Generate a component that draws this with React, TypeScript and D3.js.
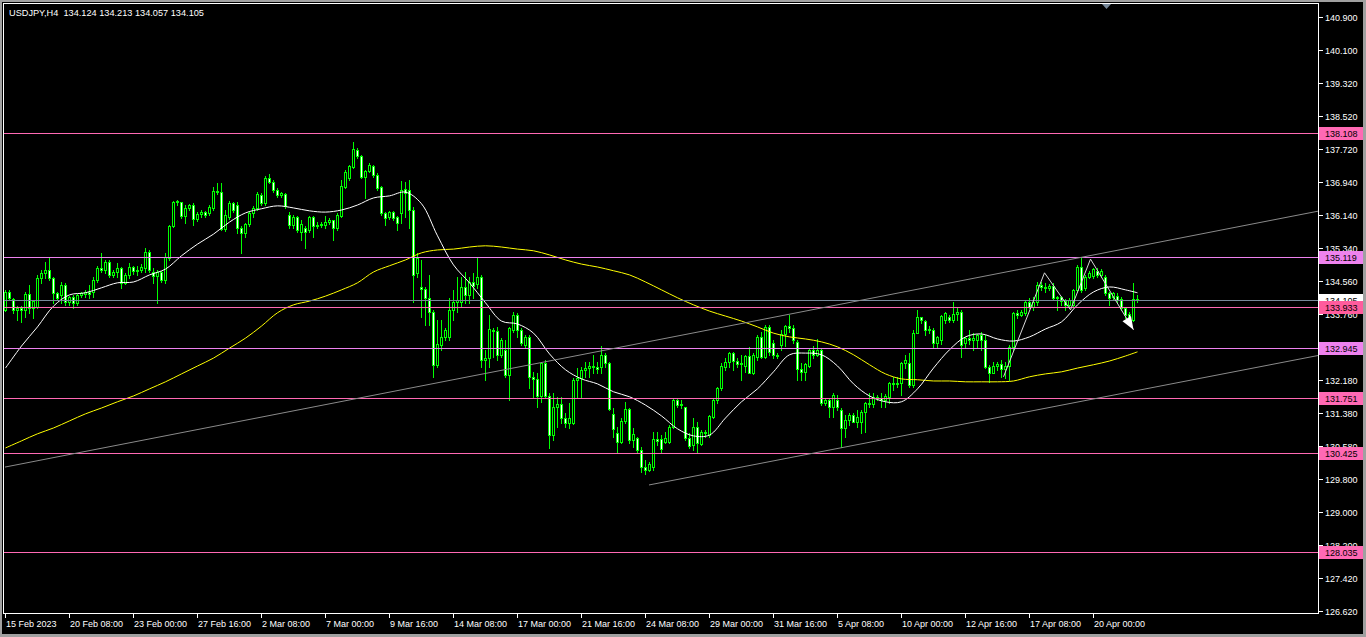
import React from "react";
import * as d3 from "d3";

const W = 1366;
const H = 637;

const symbolTitle = "USDJPY,H4";
const lastQuote = ["134.124", "134.213", "134.057", "134.105"];

// H4 bars, from 15 Feb 2023 16:00 to 21 Apr 2023 20:00
const open = [
  133.86, 134.29, 134.12, 133.86, 133.91, 133.86, 134.24, 133.91, 133.93, 134.63,
  134.75, 134.82, 134.63, 134.27, 134.22, 134.46, 134.05, 134.17, 134.03, 134.22,
  134.24, 134.29, 134.29, 134.58, 134.87, 134.82, 135.01, 134.70, 134.77, 134.87,
  134.51, 134.70, 134.89, 134.79, 134.82, 134.87, 135.25, 134.77, 134.67, 134.77,
  134.58, 135.11, 135.88, 136.45, 136.45, 136.12, 136.31, 136.38, 136.04, 136.16,
  136.21, 136.19, 136.31, 136.72, 136.69, 135.80, 136.09, 136.43, 136.38, 135.83,
  135.71, 135.92, 136.19, 136.31, 136.62, 136.43, 137.03, 136.93, 136.74, 136.62,
  136.65, 136.14, 135.90, 136.09, 135.73, 135.83, 135.78, 136.09, 135.88, 135.90,
  135.90, 135.97, 136.02, 135.83, 136.12, 136.81, 137.03, 137.29, 137.70, 137.56,
  137.05, 137.20, 137.32, 137.10, 136.81, 136.19, 136.09, 136.21, 136.09, 136.19,
  136.77, 136.74, 136.26, 134.75, 134.41, 134.36, 134.15, 133.81, 132.53, 133.02,
  133.21, 133.21, 133.86, 134.05, 134.05, 134.41, 134.22, 134.53, 134.48, 134.65,
  132.66, 132.70, 133.38, 133.35, 132.78, 132.90, 132.30, 133.38, 133.74, 133.38,
  133.02, 133.21, 132.25, 132.20, 131.79, 132.58, 131.79, 130.85, 131.52, 131.60,
  131.26, 131.14, 131.14, 132.18, 132.22, 132.42, 132.46, 132.51, 132.49, 132.49,
  132.78, 132.58, 131.36, 130.90, 130.68, 131.19, 131.48, 130.73, 130.78, 130.49,
  130.08, 130.01, 130.08, 130.76, 130.76, 130.68, 130.68, 131.04, 131.69, 131.57,
  131.52, 130.78, 130.61, 131.04, 130.64, 130.92, 130.85, 131.28, 131.69, 131.98,
  132.49, 132.61, 132.82, 132.63, 132.56, 132.51, 132.75, 132.34, 132.73, 133.21,
  132.73, 133.45, 133.06, 132.78, 133.02, 133.28, 133.47, 133.42, 133.09, 132.44,
  132.37, 132.51, 132.90, 132.78, 132.90, 131.62, 131.69, 131.52, 131.69, 131.45,
  131.02, 131.21, 131.33, 131.16, 131.16, 131.40, 131.62, 131.60, 131.77, 131.74,
  131.69, 131.77, 132.10, 132.08, 132.10, 132.58, 132.58, 132.06, 133.30, 133.69,
  133.59, 133.38, 133.38, 133.06, 133.14, 133.62, 133.69, 133.62, 133.76, 133.81,
  133.06, 133.18, 133.14, 133.14, 133.26, 133.14, 132.49, 132.34, 132.51, 132.56,
  132.44, 132.51, 132.97, 133.79, 133.74, 133.79, 134.05, 133.93, 134.05, 134.46,
  134.41, 134.39, 134.43, 134.15, 134.17, 134.07, 133.98, 133.98, 134.34, 134.89,
  134.39, 134.65, 134.68, 134.80, 134.70, 134.65, 134.27, 134.17, 134.19, 134.12,
  133.91, 133.76, 133.62, 134.124,
];

const high = [
  134.34, 134.34, 134.15, 133.95, 133.95, 134.29, 134.46, 134.10, 134.70, 134.82,
  135.01, 135.11, 134.65, 134.29, 134.53, 134.51, 134.19, 134.22, 134.24, 134.29,
  134.34, 134.46, 134.65, 134.92, 135.23, 135.06, 135.06, 134.82, 134.99, 134.89,
  134.75, 134.99, 134.92, 134.92, 134.96, 135.35, 135.30, 134.87, 134.82, 134.80,
  135.23, 135.90, 136.48, 136.50, 136.45, 136.38, 136.40, 136.43, 136.21, 136.26,
  136.24, 136.38, 136.81, 136.91, 136.91, 136.26, 136.48, 136.45, 136.45, 135.88,
  135.95, 136.24, 136.36, 136.69, 136.67, 137.08, 137.13, 136.98, 136.79, 136.69,
  136.67, 136.21, 136.14, 136.12, 136.02, 135.88, 136.12, 136.12, 135.97, 135.97,
  136.12, 136.07, 136.02, 136.19, 136.98, 137.22, 137.34, 137.90, 137.75, 137.58,
  137.22, 137.39, 137.34, 137.15, 136.84, 136.21, 136.24, 136.24, 136.12, 136.96,
  136.93, 136.98, 136.33, 135.23, 135.06, 134.41, 134.70, 133.86, 133.62, 133.62,
  133.42, 134.15, 134.34, 134.65, 134.65, 134.77, 134.65, 134.75, 135.11, 134.70,
  132.90, 133.74, 133.42, 133.45, 133.18, 133.14, 133.45, 133.81, 133.79, 133.42,
  133.26, 133.26, 132.37, 132.34, 132.61, 132.66, 131.86, 131.86, 131.77, 131.77,
  131.38, 131.62, 132.22, 132.46, 132.49, 132.61, 132.61, 132.78, 132.61, 132.99,
  132.82, 132.61, 131.50, 131.04, 131.26, 131.65, 131.50, 131.02, 130.80, 130.56,
  130.25, 130.20, 130.92, 130.92, 130.85, 130.92, 131.09, 131.74, 131.74, 131.69,
  131.52, 130.90, 131.26, 131.16, 130.97, 130.97, 131.33, 131.74, 132.01, 132.58,
  132.70, 132.85, 132.85, 132.70, 132.78, 132.78, 132.97, 132.82, 133.26, 133.33,
  133.50, 133.50, 133.14, 132.82, 133.38, 133.50, 133.74, 133.50, 133.14, 132.58,
  132.58, 132.94, 132.99, 133.16, 132.94, 131.74, 131.74, 131.86, 131.81, 131.50,
  131.33, 131.38, 131.38, 131.45, 131.45, 131.65, 131.86, 131.86, 131.81, 131.86,
  131.84, 132.13, 132.25, 132.25, 132.61, 132.78, 132.82, 133.38, 133.86, 133.69,
  133.62, 133.47, 133.42, 133.23, 133.74, 133.81, 133.74, 134.05, 133.93, 133.86,
  133.21, 133.38, 133.30, 133.28, 133.33, 133.26, 132.54, 132.61, 132.61, 132.66,
  132.61, 133.02, 133.81, 133.86, 133.86, 134.07, 134.15, 134.17, 134.53, 134.53,
  134.51, 134.48, 134.51, 134.19, 134.19, 134.12, 134.15, 134.36, 134.94, 135.11,
  134.70, 134.80, 134.87, 134.87, 134.84, 134.70, 134.29, 134.29, 134.27, 134.17,
  133.93, 133.81, 134.51, 134.213,
];

const low = [
  133.83, 134.10, 133.78, 133.62, 133.57, 133.69, 133.78, 133.67, 133.91, 134.51,
  134.63, 134.58, 134.03, 134.10, 134.03, 133.98, 133.98, 133.91, 133.98, 134.17,
  134.17, 134.15, 134.17, 134.53, 134.77, 134.75, 134.65, 134.65, 134.65, 134.39,
  134.48, 134.63, 134.72, 134.70, 134.77, 134.77, 134.77, 134.51, 134.03, 134.53,
  134.51, 135.06, 135.85, 136.38, 136.07, 135.95, 136.26, 135.90, 136.00, 136.09,
  136.09, 136.14, 136.26, 136.65, 135.78, 135.76, 136.04, 136.21, 135.70, 135.23,
  135.61, 135.88, 136.09, 136.26, 136.38, 136.38, 136.91, 136.69, 136.57, 136.57,
  136.31, 135.83, 135.83, 135.73, 135.54, 135.35, 135.73, 135.61, 135.83, 135.85,
  135.83, 135.92, 135.54, 135.78, 136.09, 136.79, 136.98, 137.27, 137.51, 137.03,
  136.55, 137.17, 137.05, 136.74, 136.14, 135.90, 136.04, 136.02, 135.78, 135.95,
  136.09, 135.83, 134.05, 134.65, 133.69, 133.49, 133.50, 132.25, 132.49, 132.90,
  133.14, 133.14, 133.62, 133.81, 133.93, 134.03, 134.03, 134.15, 134.39, 132.49,
  132.18, 132.49, 132.73, 132.66, 132.73, 132.25, 131.69, 133.33, 133.21, 133.02,
  132.94, 131.98, 131.76, 131.52, 131.65, 131.77, 130.54, 130.73, 131.04, 131.14,
  131.04, 131.02, 131.12, 131.77, 131.77, 132.25, 132.25, 132.34, 132.34, 132.34,
  132.49, 131.45, 130.81, 130.44, 130.66, 131.14, 130.66, 130.56, 130.44, 129.96,
  129.92, 129.99, 130.01, 130.61, 130.44, 130.66, 130.66, 131.02, 131.52, 131.50,
  130.73, 130.54, 130.49, 130.44, 130.61, 130.81, 130.81, 131.26, 131.62, 131.93,
  132.42, 132.49, 132.42, 132.49, 132.18, 132.37, 132.34, 132.32, 132.66, 132.70,
  132.70, 132.78, 132.70, 132.70, 132.90, 132.99, 133.33, 133.06, 132.18, 132.18,
  132.18, 132.49, 132.70, 132.75, 131.57, 131.57, 131.28, 131.28, 131.45, 130.56,
  130.80, 131.09, 131.16, 131.04, 130.90, 130.92, 131.52, 131.52, 131.69, 131.52,
  131.52, 131.62, 131.93, 132.01, 131.81, 132.46, 132.01, 132.01, 133.30, 133.55,
  133.26, 133.30, 132.94, 132.94, 133.04, 133.55, 133.57, 133.57, 133.62, 132.73,
  132.94, 133.04, 132.90, 132.94, 132.90, 132.46, 132.13, 132.34, 132.42, 132.25,
  132.22, 132.18, 132.90, 133.67, 133.71, 133.74, 133.91, 133.86, 133.98, 134.34,
  134.29, 134.34, 134.10, 133.86, 133.98, 133.86, 133.93, 133.93, 134.29, 134.29,
  134.34, 134.63, 134.63, 134.65, 134.65, 134.22, 133.98, 134.10, 134.05, 133.86,
  133.67, 133.57, 133.59, 134.057,
];

const close = [
  134.29, 134.15, 133.86, 133.91, 133.86, 134.24, 133.91, 134.07, 134.63, 134.75,
  134.82, 134.63, 134.27, 134.15, 134.46, 134.05, 134.17, 134.03, 134.22, 134.27,
  134.29, 134.24, 134.58, 134.87, 134.82, 135.01, 134.70, 134.77, 134.87, 134.51,
  134.70, 134.89, 134.79, 134.82, 134.89, 135.25, 134.82, 134.67, 134.77, 134.58,
  135.13, 135.88, 136.45, 136.48, 136.12, 136.31, 136.38, 136.04, 136.16, 136.21,
  136.14, 136.33, 136.72, 136.69, 135.80, 136.14, 136.43, 136.26, 135.83, 135.71,
  135.92, 136.19, 136.31, 136.65, 136.43, 137.03, 136.93, 136.74, 136.62, 136.67,
  136.36, 135.90, 136.09, 135.78, 135.92, 135.73, 136.09, 135.88, 135.90, 135.92,
  135.97, 136.02, 135.83, 136.14, 136.84, 137.17, 137.32, 137.73, 137.56, 137.05,
  137.20, 137.34, 137.10, 136.79, 136.19, 136.07, 136.21, 136.07, 135.95, 136.74,
  136.67, 136.26, 134.70, 135.11, 134.36, 134.15, 133.81, 132.53, 133.04, 133.21,
  133.38, 133.86, 134.05, 134.10, 134.41, 134.22, 134.53, 134.43, 134.65, 132.66,
  132.70, 133.40, 133.35, 132.78, 133.14, 132.30, 133.42, 133.74, 133.38, 133.06,
  133.21, 132.25, 132.20, 131.79, 132.58, 131.79, 130.85, 131.52, 131.60, 131.26,
  131.14, 131.26, 132.18, 132.22, 132.42, 132.46, 132.51, 132.49, 132.44, 132.78,
  132.58, 131.48, 131.00, 130.68, 131.19, 131.48, 130.73, 130.88, 130.49, 130.08,
  130.01, 130.16, 130.76, 130.71, 130.52, 130.78, 131.04, 131.69, 131.57, 131.60,
  130.78, 130.59, 131.04, 130.66, 130.92, 130.90, 131.31, 131.69, 131.98, 132.51,
  132.61, 132.82, 132.63, 132.56, 132.58, 132.75, 132.34, 132.78, 133.21, 132.73,
  133.45, 132.85, 132.78, 132.75, 133.28, 133.47, 133.42, 133.14, 132.44, 132.37,
  132.56, 132.90, 132.78, 132.90, 131.62, 131.69, 131.52, 131.81, 131.52, 131.02,
  131.21, 131.33, 131.16, 131.28, 131.40, 131.62, 131.60, 131.77, 131.74, 131.69,
  131.79, 132.10, 132.08, 132.10, 132.58, 132.66, 132.06, 133.30, 133.69, 133.62,
  133.38, 133.40, 133.06, 133.21, 133.71, 133.79, 133.62, 133.76, 133.81, 133.02,
  133.18, 133.14, 133.18, 133.26, 133.14, 132.49, 132.34, 132.51, 132.56, 132.44,
  132.51, 132.97, 133.79, 133.74, 133.81, 134.05, 133.93, 134.05, 134.46, 134.41,
  134.39, 134.43, 134.15, 134.17, 134.07, 133.98, 134.10, 134.34, 134.89, 134.34,
  134.65, 134.75, 134.84, 134.70, 134.80, 134.27, 134.15, 134.27, 134.10, 133.91,
  133.74, 133.62, 134.12, 134.105,
];

// moving averages, read every 4 bars (last sample on the final bar)
const maSampleBars = [
  0, 4, 8, 12, 16, 20, 24, 28, 32, 36, 40, 44, 48, 52, 56, 60, 64, 68, 72, 76,
  80, 84, 88, 92, 96, 100, 104, 108, 112, 116, 120, 124, 128, 132, 136, 140, 144, 148, 152, 156,
  160, 164, 168, 172, 176, 180, 184, 188, 192, 196, 200, 204, 208, 212, 216, 220, 224, 228, 232, 236,
  240, 244, 248, 252, 256, 260, 264, 268, 272, 276, 280, 283,
];
const maFast = [
  132.46, 132.99, 133.45, 133.95, 134.22, 134.27, 134.39, 134.51, 134.53, 134.70,
  134.84, 135.16, 135.44, 135.68, 135.97, 136.19, 136.29, 136.36, 136.31, 136.24,
  136.21, 136.26, 136.38, 136.55, 136.60, 136.69, 136.41, 135.64, 134.94, 134.51,
  134.03, 133.59, 133.52, 133.30, 132.80, 132.42, 132.20, 132.08, 131.89, 131.77,
  131.57, 131.31, 131.00, 130.83, 130.85, 131.26, 131.65, 131.96, 132.37, 132.78,
  132.82, 132.78, 132.51, 132.08, 131.79, 131.65, 131.65, 131.96, 132.46, 132.90,
  133.21, 133.28, 133.16, 133.11, 133.21, 133.40, 133.57, 133.98, 134.29, 134.41,
  134.34, 134.27,
];
const maSlow = [
  130.54, 130.71, 130.88, 131.02, 131.19, 131.36, 131.50, 131.65, 131.79, 131.96,
  132.13, 132.32, 132.51, 132.70, 132.94, 133.18, 133.47, 133.79, 133.98, 134.07,
  134.19, 134.34, 134.51, 134.77, 134.92, 135.06, 135.23, 135.30, 135.32, 135.37,
  135.40, 135.37, 135.32, 135.28, 135.18, 135.06, 134.96, 134.89, 134.80, 134.70,
  134.53, 134.34, 134.15, 133.98, 133.83, 133.71, 133.59, 133.45, 133.30, 133.21,
  133.16, 133.09, 132.97, 132.78, 132.54, 132.32, 132.20, 132.18, 132.15, 132.15,
  132.13, 132.13, 132.13, 132.15, 132.25, 132.32, 132.37, 132.46, 132.54, 132.63,
  132.75, 132.85,
];

// price-axis tick labels that the reference shows (132.960 is hidden under a level box there)
const priceTicks = [
  140.9, 140.1, 139.32, 138.52, 137.72, 136.94, 136.14, 135.34, 134.56, 133.76,
  132.18, 131.38, 130.58, 129.8, 129.0, 128.2, 127.42, 126.62,
];

const timeLabels = [
  "15 Feb 2023", "20 Feb 08:00", "23 Feb 00:00", "27 Feb 16:00", "2 Mar 08:00",
  "7 Mar 00:00", "9 Mar 16:00", "14 Mar 08:00", "17 Mar 00:00", "21 Mar 16:00",
  "24 Mar 08:00", "29 Mar 00:00", "31 Mar 16:00", "5 Apr 08:00", "10 Apr 00:00",
  "12 Apr 16:00", "17 Apr 08:00", "20 Apr 00:00",
];
const timeLabelBars = [0, 16, 32, 48, 64, 80, 96, 112, 128, 144, 160, 176, 192, 208, 224, 240, 256, 272];

// horizontal levels
const levelPrices = [138.108, 135.119, 132.945, 131.751, 130.425, 128.035, 134.105, 133.933];
const levelColors = ["#ff69b4", "#ee82ee", "#ee82ee", "#ff69b4", "#ff69b4", "#ff69b4", "#778899", "#ff69b4"];
const levelBoxColors = ["#ff69b4", "#ee82ee", "#ee82ee", "#ff69b4", "#ff69b4", "#ff69b4", "#ffffff", "#ff5c9d"];

// trend channel anchors (bar, price)
const channelUpper = [[0, 130.08], [270, 135.14]];
const channelLower = [[161, 129.65], [283, 131.92]];

// drawn zigzag (bar, price)
const zigzag = [[249.5, 132.25], [259.75, 134.75], [266.25, 133.86], [271.25, 135.08], [282, 133.38]];

const FONT = "'Liberation Sans', Arial, sans-serif";

export default function App() {
  const plotLeft = 3, plotTop = 3, plotRight = 1318, plotBottom = 613;
  const xs = d3.scaleLinear().domain([0, 283]).range([5, 1137]);
  const ys = d3.scaleLinear().domain([126.62, 140.9]).range([611, 17]);
  const ry = (p: number) => Math.round(ys(p));

  const maLine = d3
    .line<number>()
    .x((_, k) => xs(maSampleBars[k]) + 0.5)
    .y((v) => ys(v))
    .curve(d3.curveCatmullRom);

  const rayPath = (pts: number[][]) => {
    const [[b0, p0], [b1, p1]] = pts;
    const slope = (p1 - p0) / (b1 - b0);
    const bEnd = xs.invert(plotRight);
    const pEnd = p1 + slope * (bEnd - b1);
    return `M${xs(b0)},${ys(p0)}L${plotRight},${ys(pEnd)}`;
  };

  const zz = zigzag.map(([b, p]) => [xs(b) + 0.5, ys(p)]);
  const last = zz[zz.length - 1];
  const prev = zz[zz.length - 2];
  const ang = Math.atan2(last[1] - prev[1], last[0] - prev[0]);
  const aLen = 13, aHalf = 5;
  const bx = last[0] - aLen * Math.cos(ang), by = last[1] - aLen * Math.sin(ang);
  const arrow = `M${last[0]},${last[1]}L${bx + aHalf * Math.sin(ang)},${by - aHalf * Math.cos(ang)}L${bx - aHalf * Math.sin(ang)},${by + aHalf * Math.cos(ang)}Z`;

  return (
    <svg
      width={W}
      height={H}
      style={{ position: "absolute", left: 0, top: 0, display: "block" }}
      shapeRendering="crispEdges"
    >
      <defs>
        <clipPath id="plot">
          <rect x={plotLeft + 1} y={plotTop + 1} width={plotRight - plotLeft - 1} height={plotBottom - plotTop - 1} />
        </clipPath>
      </defs>
      <rect x={0} y={0} width={W} height={H} fill="#000" />
      {/* window edges */}
      <rect x={0} y={0} width={W} height={2} fill="#a0a0a0" />
      <rect x={0} y={0} width={2} height={H} fill="#a0a0a0" />
      <rect x={W - 3} y={0} width={3} height={H} fill="#a0a0a0" />
      <rect x={0} y={H - 3} width={W} height={3} fill="#a0a0a0" />

      <g clipPath="url(#plot)">
        {/* candles */}
        {close.map((c, i) => {
          const o = open[i];
          const hi = Math.max(high[i], o, c);
          const lo = Math.min(low[i], o, c);
          const x = Math.round(xs(i));
          const yh = ry(hi), yl = ry(lo);
          const yt = ry(Math.max(o, c)), yb = ry(Math.min(o, c));
          const bh = Math.max(1, yb - yt + 1);
          return (
            <g key={i}>
              <rect x={x} y={yh} width={1} height={yl - yh + 1} fill="#00ff00" />
              <rect x={x - 1} y={yt} width={3} height={bh} fill="#00ff00" />
              {bh > 2 && <rect x={x} y={yt + 1} width={1} height={bh - 2} fill={c >= o ? "#000000" : "#ffffff"} />}
            </g>
          );
        })}

        {/* moving averages */}
        <path d={maLine(maSlow) || ""} fill="none" stroke="#ffff00" strokeWidth={1} shapeRendering="auto" />
        <path d={maLine(maFast) || ""} fill="none" stroke="#ffffff" strokeWidth={1} shapeRendering="auto" />

        {/* horizontal levels */}
        {levelPrices.map((p, k) => (
          <line key={k} x1={plotLeft} x2={plotRight} y1={ry(p) + 0.5} y2={ry(p) + 0.5} stroke={levelColors[k]} strokeWidth={1} />
        ))}

        {/* channel */}
        <path d={rayPath(channelUpper)} stroke="#8a8a8a" strokeWidth={1} fill="none" shapeRendering="auto" />
        <path d={rayPath(channelLower)} stroke="#8a8a8a" strokeWidth={1} fill="none" shapeRendering="auto" />

        {/* zigzag with arrow */}
        <path d={d3.line()(zz as [number, number][]) || ""} stroke="#d8d8d8" strokeWidth={1} fill="none" shapeRendering="auto" />
        <path d={arrow} fill="#ffffff" shapeRendering="auto" />
      </g>

      {/* frame */}
      <line x1={plotLeft + 0.5} x2={plotLeft + 0.5} y1={plotTop} y2={plotBottom + 1} stroke="#ffffff" />
      <line x1={plotLeft} x2={plotRight + 1} y1={plotTop + 0.5} y2={plotTop + 0.5} stroke="#ffffff" />
      <line x1={plotRight + 0.5} x2={plotRight + 0.5} y1={plotTop} y2={plotBottom + 1} stroke="#ffffff" />
      <line x1={plotLeft} x2={plotRight + 1} y1={plotBottom + 0.5} y2={plotBottom + 0.5} stroke="#ffffff" />

      {/* chart shift marker */}
      <path d="M1102,4L1111,4L1106.5,9Z" fill="#778899" shapeRendering="auto" />

      {/* price axis */}
      {priceTicks.map((t, k) => (
        <g key={k}>
          <line x1={plotRight + 1} x2={plotRight + 5} y1={ry(t) + 0.5} y2={ry(t) + 0.5} stroke="#ffffff" />
          <text x={1325} y={ry(t) + 0.5} dy="0.35em" fill="#ffffff" fontFamily={FONT} fontSize={9}>
            {t.toFixed(3)}
          </text>
        </g>
      ))}

      {/* level price boxes */}
      {levelPrices.map((p, k) => (
        <g key={k}>
          <rect x={1319} y={ry(p) - 6} width={44} height={13} fill={levelBoxColors[k]} />
          <text x={1325} y={ry(p) + 0.5} dy="0.35em" fill="#000000" fontFamily={FONT} fontSize={9}>
            {p.toFixed(3)}
          </text>
        </g>
      ))}

      {/* time axis */}
      {timeLabels.map((lab, k) => {
        const x = Math.round(xs(timeLabelBars[k]));
        return (
          <g key={k}>
            <line x1={x + 0.5} x2={x + 0.5} y1={plotBottom} y2={plotBottom + 5} stroke="#ffffff" />
            <text x={x + 1} y={624} dy="0.35em" fill="#ffffff" fontFamily={FONT} fontSize={9}>
              {lab}
            </text>
          </g>
        );
      })}

      {/* title */}
      <text x={9} y={13} dy="0.35em" fill="#ffffff" fontFamily={FONT} fontSize={9.2} style={{ whiteSpace: "pre" }}>
        {`${symbolTitle}  ${lastQuote.join(" ")}`}
      </text>
    </svg>
  );
}
